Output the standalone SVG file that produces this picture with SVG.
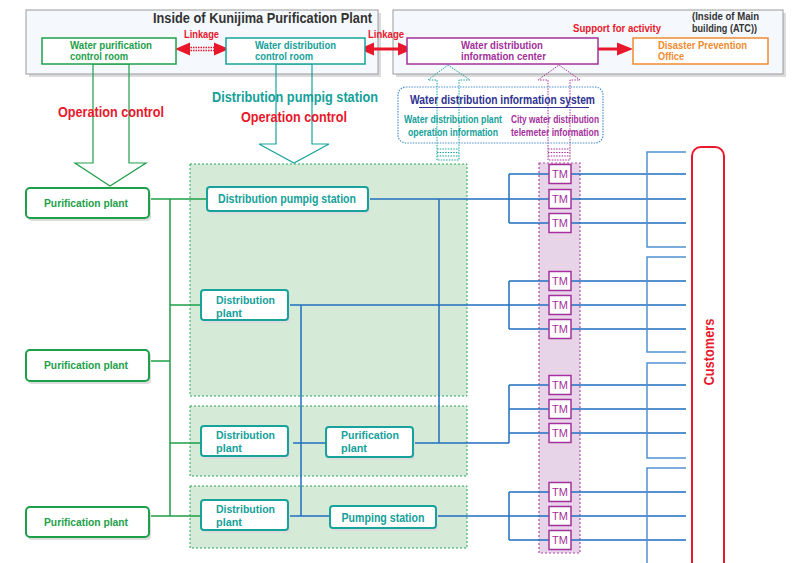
<svg xmlns="http://www.w3.org/2000/svg" width="800" height="563" viewBox="0 0 800 563">
<defs>
<style>
text{font-family:"Liberation Sans Narrow","Liberation Sans",Arial,sans-serif;font-weight:bold}
.g{fill:#1e9f4a}.t{fill:#15a19a}.r{fill:#e8172b}.p{fill:#a3309b}.o{fill:#f08b2f}.k{fill:#333333}.n{fill:#2f3391}
.bl{stroke:#1f6fc0;stroke-width:1.5;fill:none}
.bl2{stroke:#4f93d4;stroke-width:1.5;fill:none}
.gl{stroke:#1e9f4a;stroke-width:1.5;fill:none}
.cont{fill:#f5f9fd;stroke:#9a9a9a;stroke-width:1}
.sh{fill:#dcdcdc}
.gnode{fill:#fff;stroke:#1e9f4a;stroke-width:2}
.tnode{fill:#fff;stroke:#17a39b;stroke-width:2}
.zone{fill:#d6ebd7;stroke:#2aa55a;stroke-width:1;stroke-dasharray:2 2}
.tm{fill:#fff;stroke:#a3309b;stroke-width:1.5}
.tmt{font-weight:normal;font-size:11px;fill:#a3309b}
</style>
</defs>

<!-- top containers -->
<g id="kunijima">
<rect class="sh" x="29" y="13" width="352" height="64"/>
<rect class="cont" x="26" y="10" width="352" height="64"/>
<text class="k" x="372" y="23" font-size="14.5" text-anchor="end" textLength="219" lengthAdjust="spacingAndGlyphs">Inside of Kunijima Purification Plant</text>
</g>
<g id="mainbuilding">
<rect class="sh" x="396" y="13" width="390" height="64"/>
<rect class="cont" x="393" y="10" width="390" height="64"/>
<text class="k" x="692" y="20" font-size="10.5" textLength="67" lengthAdjust="spacingAndGlyphs">(Inside of Main</text>
<text class="k" x="692" y="32" font-size="10.5" textLength="65" lengthAdjust="spacingAndGlyphs">building (ATC))</text>
</g>

<!-- green zones -->
<g id="zones">
<rect class="zone" x="190" y="164" width="277" height="232"/>
<rect class="zone" x="190" y="406" width="277" height="70"/>
<rect class="zone" x="190" y="486" width="277" height="62"/>
<rect x="539" y="163" width="41" height="390" fill="#e8d4e8" stroke="#b04aa8" stroke-width="1.2" stroke-dasharray="2 2"/>
</g>

<!-- connectors -->
<g id="connectors">
<polygon points="93,64 93,163 75,163 110,186 146,163 129,163 129,64" fill="none" stroke="#1e9f4a" stroke-width="1.2"/>
<polygon points="276,64 276,144 259,144 294,163 329,144 312,144 312,64" fill="none" stroke="#17a39b" stroke-width="1.2"/>
<polygon points="437,160 437,80 428,80 448,65 470,80 459,80 459,160" fill="none" stroke="#17a39b" stroke-width="1" stroke-dasharray="1.5 1.2"/>
<path d="M437,149H459M437,152.5H459M437,156H459" stroke="#17a39b" stroke-width="1" stroke-dasharray="1.5 1.2"/>
<polygon points="548,160 548,80 538,80 559,65 580,80 570,80 570,160" fill="none" stroke="#a3309b" stroke-width="1" stroke-dasharray="1.5 1.2"/>
<path d="M548,149H570M548,152.5H570M548,156H570" stroke="#a3309b" stroke-width="1" stroke-dasharray="1.5 1.2"/>

<path d="M188,47.5H215M188,50.5H215" stroke="#e8172b" stroke-width="1.5" stroke-dasharray="1.5 1"/>
<polygon points="175,49 190,42.5 190,55.5" fill="#e8172b"/>
<polygon points="229,49 214,42.5 214,55.5" fill="#e8172b"/>
<path d="M372,49H400" stroke="#e8172b" stroke-width="3"/>
<polygon points="359,49 374,42.5 374,55.5" fill="#e8172b"/>
<polygon points="413,49 398,42.5 398,55.5" fill="#e8172b"/>
<path d="M598,49H619" stroke="#e8172b" stroke-width="3"/>
<polygon points="633,49 617,42.5 617,55.5" fill="#e8172b"/>

<path class="gl" d="M149,199H207M170,199V516M170,305H201M149,361H170M170,443H201M149,516H201"/>

<path class="bl" d="M368,199H686M439,199V443M288,305H686M301,305V516M293,443H326M413,443H509M288,516H330M436,516H686"/>
<path class="bl" d="M509,174V223M509,174H686M509,223H686"/>
<path class="bl" d="M509,281V329M509,281H686M509,329H686"/>
<path class="bl" d="M509,385V443M509,385H686M509,409H686M509,433H686"/>
<path class="bl" d="M509,492V540M509,492H686M509,540H686"/>
<path class="bl2" d="M686,152H647V247H686M686,257H647V352H686M686,363H647V458H686M686,468H647V563"/>
</g>

<g id="purification-control-room">
<rect x="42" y="38" width="134" height="26" fill="#fff" stroke="#1e9f4a" stroke-width="1.5"/>
<text class="g" x="70" y="49" font-size="11" textLength="82" lengthAdjust="spacingAndGlyphs">Water purification</text>
<text class="g" x="70" y="60" font-size="11" textLength="58" lengthAdjust="spacingAndGlyphs">control room</text>
</g>
<g id="distribution-control-room">
<rect x="226" y="38" width="139" height="26" fill="#fff" stroke="#17a39b" stroke-width="1.5"/>
<text class="t" x="255" y="49" font-size="11" textLength="81" lengthAdjust="spacingAndGlyphs">Water distribution</text>
<text class="t" x="255" y="60" font-size="11" textLength="58" lengthAdjust="spacingAndGlyphs">control room</text>
</g>
<g id="info-center">
<rect x="407" y="38" width="191" height="26" fill="#fff" stroke="#a3309b" stroke-width="1.5"/>
<text class="p" x="461" y="49" font-size="11" textLength="82" lengthAdjust="spacingAndGlyphs">Water distribution</text>
<text class="p" x="461" y="60" font-size="11" textLength="85" lengthAdjust="spacingAndGlyphs">information center</text>
</g>
<g id="disaster-office">
<rect x="633" y="38" width="135" height="26" fill="#fff" stroke="#f08b2f" stroke-width="1.5"/>
<text class="o" x="658" y="49" font-size="11" textLength="89" lengthAdjust="spacingAndGlyphs">Disaster Prevention</text>
<text class="o" x="658" y="60" font-size="11" textLength="26" lengthAdjust="spacingAndGlyphs">Office</text>
</g>

<g id="labels">
<text class="r" x="184" y="38" font-size="10.5" textLength="35" lengthAdjust="spacingAndGlyphs">Linkage</text>
<text class="r" x="368" y="38" font-size="10.5" textLength="36" lengthAdjust="spacingAndGlyphs">Linkage</text>
<text class="r" x="573" y="32" font-size="11" textLength="88" lengthAdjust="spacingAndGlyphs">Support for activity</text>
<text class="r" x="58" y="117" font-size="15" textLength="106" lengthAdjust="spacingAndGlyphs">Operation control</text>
<text class="t" x="212" y="102" font-size="15" textLength="166" lengthAdjust="spacingAndGlyphs">Distribution pumpig station</text>
<text class="r" x="241" y="122" font-size="15" textLength="106" lengthAdjust="spacingAndGlyphs">Operation control</text>
</g>

<g id="info-system">
<rect x="398" y="87" width="205" height="56" rx="8" fill="none" stroke="#4a8fd0" stroke-width="1.2" stroke-dasharray="1.5 1.2"/>
<text class="n" x="410" y="104" font-size="13.5" textLength="185" lengthAdjust="spacingAndGlyphs">Water distribution information system</text>
<path d="M419,107.5H589" stroke="#2f3391" stroke-width="1"/>
<text class="t" x="453" y="123" font-size="11" text-anchor="middle" textLength="98" lengthAdjust="spacingAndGlyphs">Water distribution plant</text>
<text class="t" x="453" y="136" font-size="11" text-anchor="middle" textLength="90" lengthAdjust="spacingAndGlyphs">operation information</text>
<text class="p" x="555" y="123" font-size="11" text-anchor="middle" textLength="88" lengthAdjust="spacingAndGlyphs">City water distribution</text>
<text class="p" x="555" y="136" font-size="11" text-anchor="middle" textLength="88" lengthAdjust="spacingAndGlyphs">telemeter information</text>
</g>

<g id="pp1">
<rect class="sh" x="28" y="191" width="123" height="30" rx="4"/>
<rect class="gnode" x="26" y="188" width="123" height="30" rx="4"/>
<text class="g" x="86" y="207" font-size="11.5" text-anchor="middle" textLength="84" lengthAdjust="spacingAndGlyphs">Purification plant</text>
</g>
<g id="pp2">
<rect class="sh" x="28" y="353" width="123" height="31" rx="4"/>
<rect class="gnode" x="26" y="350" width="123" height="31" rx="4"/>
<text class="g" x="86" y="369" font-size="11.5" text-anchor="middle" textLength="84" lengthAdjust="spacingAndGlyphs">Purification plant</text>
</g>
<g id="pp3">
<rect class="sh" x="28" y="510" width="123" height="30" rx="4"/>
<rect class="gnode" x="26" y="507" width="123" height="30" rx="4"/>
<text class="g" x="86" y="526" font-size="11.5" text-anchor="middle" textLength="84" lengthAdjust="spacingAndGlyphs">Purification plant</text>
</g>

<g id="pump-station-main">
<rect class="sh" x="209" y="190" width="161" height="24" rx="3"/>
<rect class="tnode" x="207" y="187" width="161" height="24" rx="3"/>
<text class="t" x="218" y="203" font-size="12.5" textLength="138" lengthAdjust="spacingAndGlyphs">Distribution pumpig station</text>
</g>
<g id="dist-plant-1">
<rect class="sh" x="203" y="293" width="87" height="30" rx="3"/>
<rect class="tnode" x="201" y="290" width="87" height="30" rx="3"/>
<text class="t" x="216" y="304" font-size="11.5" textLength="59" lengthAdjust="spacingAndGlyphs">Distribution</text>
<text class="t" x="216" y="316.5" font-size="11.5" textLength="26" lengthAdjust="spacingAndGlyphs">plant</text>
</g>
<g id="dist-plant-2">
<rect class="sh" x="203" y="429" width="87" height="30" rx="3"/>
<rect class="tnode" x="201" y="426" width="87" height="30" rx="3"/>
<text class="t" x="216" y="439" font-size="11.5" textLength="59" lengthAdjust="spacingAndGlyphs">Distribution</text>
<text class="t" x="216" y="451.5" font-size="11.5" textLength="26" lengthAdjust="spacingAndGlyphs">plant</text>
</g>
<g id="purification-plant-teal">
<rect class="sh" x="328" y="430" width="87" height="30" rx="3"/>
<rect class="tnode" x="326" y="427" width="87" height="30" rx="3"/>
<text class="t" x="341" y="439" font-size="11.5" textLength="58" lengthAdjust="spacingAndGlyphs">Purification</text>
<text class="t" x="341" y="451.5" font-size="11.5" textLength="26" lengthAdjust="spacingAndGlyphs">plant</text>
</g>
<g id="dist-plant-3">
<rect class="sh" x="203" y="503" width="87" height="30" rx="3"/>
<rect class="tnode" x="201" y="500" width="87" height="30" rx="3"/>
<text class="t" x="216" y="513" font-size="11.5" textLength="59" lengthAdjust="spacingAndGlyphs">Distribution</text>
<text class="t" x="216" y="525.5" font-size="11.5" textLength="26" lengthAdjust="spacingAndGlyphs">plant</text>
</g>
<g id="pumping-station">
<rect class="sh" x="332" y="509" width="106" height="22" rx="3"/>
<rect class="tnode" x="330" y="506" width="106" height="22" rx="3"/>
<text class="t" x="383" y="522" font-size="12" text-anchor="middle" textLength="83" lengthAdjust="spacingAndGlyphs">Pumping station</text>
</g>

<g id="tm1"><rect class="tm" x="549" y="164.5" width="22" height="19"/><text class="tmt" x="560" y="178" text-anchor="middle">TM</text></g>
<g id="tm2"><rect class="tm" x="549" y="189.5" width="22" height="19"/><text class="tmt" x="560" y="203" text-anchor="middle">TM</text></g>
<g id="tm3"><rect class="tm" x="549" y="213.5" width="22" height="19"/><text class="tmt" x="560" y="227" text-anchor="middle">TM</text></g>
<g id="tm4"><rect class="tm" x="549" y="271.5" width="22" height="19"/><text class="tmt" x="560" y="285" text-anchor="middle">TM</text></g>
<g id="tm5"><rect class="tm" x="549" y="295.5" width="22" height="19"/><text class="tmt" x="560" y="309" text-anchor="middle">TM</text></g>
<g id="tm6"><rect class="tm" x="549" y="319.5" width="22" height="19"/><text class="tmt" x="560" y="333" text-anchor="middle">TM</text></g>
<g id="tm7"><rect class="tm" x="549" y="375.5" width="22" height="19"/><text class="tmt" x="560" y="389" text-anchor="middle">TM</text></g>
<g id="tm8"><rect class="tm" x="549" y="399.5" width="22" height="19"/><text class="tmt" x="560" y="413" text-anchor="middle">TM</text></g>
<g id="tm9"><rect class="tm" x="549" y="423.5" width="22" height="19"/><text class="tmt" x="560" y="437" text-anchor="middle">TM</text></g>
<g id="tm10"><rect class="tm" x="549" y="482.5" width="22" height="19"/><text class="tmt" x="560" y="496" text-anchor="middle">TM</text></g>
<g id="tm11"><rect class="tm" x="549" y="506.5" width="22" height="19"/><text class="tmt" x="560" y="520" text-anchor="middle">TM</text></g>
<g id="tm12"><rect class="tm" x="549" y="530.5" width="22" height="19"/><text class="tmt" x="560" y="544" text-anchor="middle">TM</text></g>

<g id="customers">
<rect x="692" y="147" width="32" height="440" rx="9" fill="#fff" stroke="#e8172b" stroke-width="2"/>
<text class="r" transform="translate(714,352) rotate(-90)" font-size="14" text-anchor="middle" textLength="67" lengthAdjust="spacingAndGlyphs">Customers</text>
</g>
</svg>
